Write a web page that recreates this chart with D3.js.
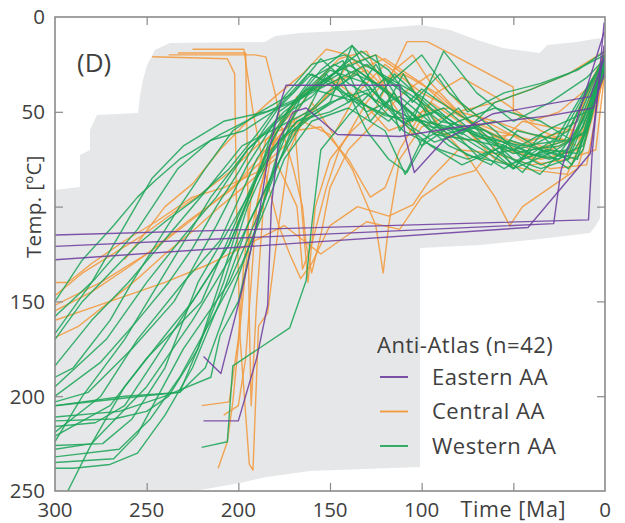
<!DOCTYPE html>
<html>
<head>
<meta charset="utf-8">
<script src="https://cdn.jsdelivr.net/npm/d3@7"></script>
<style>
  html, body { margin: 0; padding: 0; background: #fff; }
  svg { display: block; }
  text { font-family: "Open Sans", "DejaVu Sans", sans-serif; fill: #3f3f3f; }
</style>
</head>
<body>
<svg id="chart" width="625" height="523"></svg>
<script>
// Thermal histories of the Anti-Atlas samples: time [Ma] vs temperature [°C]

const xTicks = [300, 250, 200, 150, 100, 50, 0];
const xTickLabels = ["300", "250", "200", "150", "100", "Time [Ma]", "0"];
const yTicks = [0, 50, 100, 150, 200, 250];
const yTickLabels = ["0", "50", "", "150", "200", "250"];

const groups = ["Eastern AA", "Central AA", "Western AA"];
const groupColors = ["#6e3fa0", "#f39a3c", "#1ea65a"];
const legendTitle = "Anti-Atlas (n=42)";
const panelLabel = "(D)";
const yTitle = "Temp. [ºC]";

// envelope of all accepted paths, [time, temperature]
const envelope = [
  [300, 250], [300, 91.3], [286.4, 89.7], [286.4, 72.8], [280.9, 70.2], [280.9, 59.6],
  [277.1, 51.7], [254.7, 50.6], [253.6, 41.1], [252, 33.2], [249.8, 25.3], [245.5, 17.4],
  [237.3, 13.7], [185.5, 13.2], [180, 10], [166.4, 8.4], [133.6, 6.9], [100.9, 4.2],
  [84.5, 6.9], [69.8, 12.1], [55.6, 16.4], [35.5, 19], [31.6, 14.8], [15.3, 13.2],
  [5, 11.5], [2.6, 11.2], [2.6, 106], [5, 110], [8.2, 113.9], [35.5, 117.1],
  [68.2, 120.3], [100.9, 121.9], [100.9, 237.4], [160.9, 239.5], [185.5, 242.7],
  [199.1, 245.8], [220.9, 249.5], [226.4, 250]
];

// Eastern Anti-Atlas paths
const easternPaths = [
  [[300, 115], [9, 107], [7, 72], [0.5, 3]],
  [[300, 121], [28, 109], [24, 81], [0.5, 8]],
  [[300, 128], [42, 111], [8, 72], [0.5, 15]],
  [[219, 179], [209.5, 188], [198, 144], [188, 100], [183, 69], [176, 42], [174, 36],
   [112, 36], [109, 63], [104, 82], [88, 65], [61, 51], [8, 42], [0.5, 22]],
  [[219, 213], [200, 213], [190, 180], [184, 152], [182, 100], [178, 65], [170, 50],
   [163, 48], [146, 62], [112, 63], [80, 58], [30, 52], [6.5, 48], [0.5, 30]]
];

// Central Anti-Atlas paths
const centralPaths = [
  [[247, 21], [206, 22], [202, 30], [201, 100], [199, 170], [194, 236], [192, 239], [189, 163],
   [184, 156], [178, 110], [172, 70], [160, 45], [148, 62], [135, 40], [120, 25], [100, 40],
   [80, 50], [60, 45], [40, 38], [20, 30], [0, 18]],
  [[233, 19], [196, 19], [195, 80], [194, 160], [193, 205], [190, 150], [186, 95], [180, 60],
   [168, 42], [150, 35], [130, 28], [112, 45], [95, 60], [75, 65], [50, 62], [30, 70], [10, 62], [0, 20]],
  [[238, 20], [191, 20], [185, 21], [180, 40], [176, 60], [170, 80], [165, 100], [163, 120],
   [160, 135], [155, 115], [150, 90], [140, 70], [125, 55], [110, 40], [95, 30], [80, 45],
   [65, 55], [40, 68], [20, 72], [0, 22]],
  [[300, 140], [293, 140], [280, 130], [262, 118], [245, 108], [225, 95], [208, 90], [190, 82],
   [175, 68], [160, 50], [140, 30], [120, 22], [100, 35], [80, 52], [60, 60], [40, 65], [20, 60], [0, 20]],
  [[300, 147], [285, 135], [270, 126], [252, 115], [235, 103], [220, 93], [205, 82], [190, 68],
   [178, 60], [165, 55], [150, 62], [138, 80], [125, 110], [121, 135], [118, 110], [112, 75],
   [100, 58], [80, 50], [60, 55], [40, 62], [20, 65], [0, 20]],
  [[300, 169], [287, 163], [270, 150], [255, 138], [240, 125], [225, 113], [210, 100], [195, 88],
   [180, 75], [168, 100], [165, 133], [160, 120], [152, 90], [145, 70], [130, 45], [115, 28],
   [105, 20], [95, 35], [75, 55], [55, 70], [35, 75], [15, 70], [0, 25]],
  [[211, 238], [206, 224], [203, 203], [195, 123], [188, 90], [178, 58], [165, 40], [150, 32],
   [132, 45], [118, 60], [105, 55], [95, 45], [80, 55], [60, 75], [45, 80], [20.7, 83], [10, 60], [0, 22]],
  [[220, 205], [205, 203], [200, 170], [197, 130], [193, 95], [185, 65], [170, 50], [162, 140],
   [158, 100], [150, 75], [138, 60], [125, 48], [108, 13], [97, 13], [83, 20], [50, 37], [50, 50],
   [35, 60], [15, 68], [0, 20]],
  [[225, 17], [197, 17], [192, 50], [186, 80], [178, 110], [172, 125], [166, 138], [160, 130],
   [150, 110], [135, 100], [118, 105], [104.7, 99], [95, 85], [80, 70], [60, 72], [40, 78],
   [20, 75], [5, 70], [0, 28]],
  [[300, 155], [280, 145], [260, 132], [240, 118], [220, 103], [200, 87], [185, 70], [170, 55],
   [155, 45], [140, 25], [125, 20], [110, 30], [100, 45], [88, 60], [74, 75], [60, 95], [52, 110],
   [45, 100], [30, 90], [15, 80], [0, 30]],
  [[300, 160], [270, 150], [240, 140], [215, 130], [195, 120], [175, 110], [155, 125], [130, 108],
   [112, 112], [100, 95], [85, 85], [71, 81], [60, 68], [45, 55], [30, 58], [15, 60], [0, 20]],
  [[208, 210], [200, 205], [196, 180], [193, 140], [190, 100], [183, 70], [170, 60], [155, 58],
   [140, 75], [128, 95], [120, 90], [112, 70], [100, 50], [85, 48], [65, 60], [45, 72], [30, 80],
   [10, 78], [0, 25]],
  [[262, 128], [240, 100], [225, 88], [210, 70], [195, 55], [180, 42], [165, 30], [152, 17],
   [140, 20], [125, 35], [110, 30], [92, 40], [75, 55], [60, 62], [40, 70], [20, 65], [0, 18]],
  [[300, 152], [275, 140], [250, 125], [228, 108], [205, 92], [186, 75], [172, 55], [158, 35],
   [145, 22], [130, 18], [118, 42], [105, 62], [92, 40], [78, 32], [60, 42], [40, 55], [25, 50],
   [10, 38], [0, 20]]
];

// Western Anti-Atlas paths
const westernPaths = [
  [[300, 235], [268, 233], [255, 220], [230, 175], [205, 140], [185, 95], [172, 62], [150, 45],
   [138, 15], [118, 35], [100, 20], [85, 40], [60, 60], [45, 75], [30, 70], [15, 45], [0, 22]],
  [[300, 228], [280, 225], [250, 195], [225, 160], [200, 120], [180, 80], [165, 55], [152, 30],
   [140, 45], [125, 25], [105, 55], [88, 18], [70, 40], [50, 55], [30, 45], [10, 32], [0, 22]],
  [[300, 224], [285, 200], [262, 170], [240, 135], [215, 95], [195, 70], [175, 52], [155, 28],
   [138, 15], [120, 48], [110, 30], [95, 55], [75, 65], [50, 80], [35, 62], [18, 78], [8, 55], [0, 20]],
  [[300, 221], [270, 205], [250, 180], [220, 150], [200, 105], [183, 68], [170, 45], [148, 25],
   [125, 35], [104, 52], [85, 68], [62, 78], [48, 60], [25, 65], [8, 35], [0, 22]],
  [[300, 219], [275, 200], [255, 170], [230, 140], [210, 118], [190, 75], [172, 48], [160, 32],
   [143, 23], [128, 55], [115, 40], [100, 68], [85, 58], [68, 75], [52, 65], [35, 70], [20, 80],
   [12, 70], [0, 25]],
  [[300, 216], [278, 214], [262, 205], [245, 180], [225, 150], [205, 120], [188, 80], [178, 50],
   [160, 38], [138, 44], [110, 55], [93, 66], [70, 58], [50, 75], [35, 80], [20, 75], [0, 30]],
  [[300, 211], [265, 208], [240, 200], [215, 190], [210, 168], [200, 150], [190, 110], [178, 72],
   [165, 40], [145, 28], [125, 20], [112, 60], [100, 45], [88, 62], [60, 55], [35, 70], [15, 75], [0, 22]],
  [[300, 205], [262, 200], [232, 198], [218, 185], [205, 150], [190, 110], [175, 60], [160, 38],
   [140, 25], [120, 38], [100, 55], [75, 60], [50, 80], [30, 72], [10, 60], [0, 20]],
  [[300, 203], [282, 198], [258, 175], [235, 150], [212, 110], [195, 78], [180, 55], [160, 42],
   [140, 22], [125, 45], [115, 30], [95, 48], [78, 62], [60, 45], [40, 38], [20, 30], [0, 20]],
  [[300, 195], [272, 170], [250, 140], [232, 118], [212, 95], [195, 70], [175, 50], [155, 35],
   [133, 18], [118, 28], [105, 45], [90, 30], [75, 50], [55, 40], [35, 35], [15, 28], [0, 18]],
  [[300, 184], [280, 160], [260, 140], [238, 115], [218, 92], [198, 68], [178, 58], [158, 48],
   [135, 28], [113, 45], [93, 62], [72, 65], [50, 70], [28, 58], [10, 50], [0, 20]],
  [[300, 167], [280, 140], [262, 110], [247, 85], [230, 68], [208, 55], [185, 50], [165, 42],
   [145, 30], [130, 60], [118, 75], [108, 82], [95, 60], [80, 48], [62, 68], [45, 82], [35, 70],
   [20, 75], [10, 60], [0, 22]],
  [[300, 158], [278, 138], [255, 112], [233, 80], [215, 65], [197, 60], [178, 48], [160, 30],
   [143, 40], [120, 52], [98, 55], [75, 73], [52, 78], [32, 70], [15, 72], [0, 25]],
  [[293, 250], [280, 225], [262, 195], [240, 168], [225, 150], [205, 120], [192, 90], [180, 62],
   [168, 45], [150, 28], [130, 35], [110, 56], [92, 50], [70, 63], [45, 68], [22, 65], [5, 30], [0, 22]],
  [[300, 238], [290, 238], [270, 236], [255, 230], [240, 210], [225, 185], [210, 150], [195, 110],
   [182, 85], [170, 60], [152, 40], [135, 30], [115, 52], [95, 68], [78, 78], [55, 68], [35, 78],
   [20, 73], [0, 25]],
  [[220, 227], [206, 224], [203, 184], [172, 164], [163, 139], [160, 110], [155, 70], [140, 52],
   [120, 32], [100, 45], [80, 60], [60, 72], [40, 68], [15, 55], [0, 20]],
  [[300, 150], [285, 128], [268, 110], [255, 95], [245, 86], [232, 75], [210, 62], [190, 52],
   [170, 45], [150, 35], [130, 25], [110, 40], [90, 55], [65, 60], [40, 72], [20, 60], [0, 20]],
  [[300, 232], [265, 228], [248, 212], [232, 190], [215, 160], [198, 130], [185, 100], [175, 75],
   [160, 55], [140, 48], [120, 60], [109, 83], [100, 65], [80, 55], [60, 48], [35, 55], [18, 65], [0, 22]],
  [[300, 213], [268, 212], [250, 208], [238, 200], [222, 175], [210, 140], [200, 110], [190, 85],
   [178, 65], [160, 52], [140, 40], [118, 55], [100, 38], [82, 50], [62, 62], [50, 80], [40, 70],
   [25, 68], [10, 60], [0, 25]],
  [[300, 226], [274, 225], [258, 212], [240, 185], [222, 140], [210, 120], [195, 95], [182, 70],
   [168, 55], [150, 50], [130, 40], [110, 60], [90, 70], [75, 75], [60, 70], [35.5, 83], [25, 72],
   [12, 55], [0, 22]],
  [[300, 205], [253, 200], [232, 198], [220, 170], [208, 140], [195, 100], [182, 72], [168, 55],
   [150, 45], [128, 38], [108, 55], [88, 48], [70, 62], [50, 70], [30, 75], [12, 68], [0, 25]],
  [[300, 170], [285, 150], [270, 135], [255, 120], [240, 108], [222, 95], [205, 80], [190, 62],
   [175, 42], [160, 25], [142, 20], [122, 30], [100, 42], [80, 58], [58, 65], [38, 73], [20, 70], [0, 28]],
  [[300, 190], [290, 185], [270, 160], [258, 140], [245, 120], [232, 100], [218, 80], [203, 60],
   [188, 50], [170, 40], [155, 22], [140, 35], [118, 48], [95, 58], [75, 60], [50, 72], [30, 68],
   [12, 62], [0, 22]],
  [[300, 200], [275, 182], [255, 160], [238, 140], [225, 122], [212, 100], [200, 82], [188, 62],
   [176, 45], [162, 30], [148, 35], [130, 50], [112, 42], [96, 55], [80, 65], [55, 80], [42, 72],
   [25, 75], [12, 58], [0, 24]]
];

const svg = d3.select("#chart");
const margin = { left: 55, top: 17, right: 20, bottom: 32 };
const W = 625, H = 523;
const pw = W - margin.left - margin.right;   // 550
const ph = H - margin.top - margin.bottom;   // 474

const x = d3.scaleLinear().domain([300, 0]).range([margin.left, margin.left + pw]);
const y = d3.scaleLinear().domain([0, 250]).range([margin.top, margin.top + ph]);

svg.append("defs").append("clipPath").attr("id", "plot-clip")
  .append("rect").attr("x", margin.left).attr("y", margin.top).attr("width", pw).attr("height", ph);

const plot = svg.append("g").attr("clip-path", "url(#plot-clip)");

const line = d3.line().x(d => x(d[0])).y(d => y(d[1]));

// envelope
plot.append("path")
  .datum(envelope)
  .attr("d", d => line(d) + "Z")
  .attr("fill", "#e6e7e8")
  .attr("stroke", "none");

// paths per group: central below, western above, eastern on top
const drawGroup = (paths, color, cls) => {
  plot.append("g").attr("class", cls)
    .selectAll("path").data(paths).join("path")
    .attr("d", line)
    .attr("fill", "none")
    .attr("stroke", color)
    .attr("stroke-width", 1.4)
    .attr("stroke-linejoin", "round")
    .attr("stroke-opacity", 0.88);
};
drawGroup(centralPaths, groupColors[1], "central");
drawGroup(westernPaths, groupColors[2], "western");
drawGroup(easternPaths, groupColors[0], "eastern");

// frame and inward ticks on all four sides
const axisColor = "#8a8a8a";
const tickLen = 8;
const innerX = xTicks.filter(v => v !== 300 && v !== 0);
const innerY = yTicks.filter(v => v !== 0 && v !== 250);

const axes = svg.append("g");
axes.append("g")
  .attr("transform", `translate(0,${margin.top + ph})`)
  .call(d3.axisBottom(x).tickValues(innerX).tickSize(-tickLen).tickFormat(""))
  .call(g => g.select(".domain").remove());
axes.append("g")
  .attr("transform", `translate(0,${margin.top})`)
  .call(d3.axisTop(x).tickValues(innerX).tickSize(-tickLen).tickFormat(""))
  .call(g => g.select(".domain").remove());
axes.append("g")
  .attr("transform", `translate(${margin.left},0)`)
  .call(d3.axisLeft(y).tickValues(innerY).tickSize(-tickLen).tickFormat(""))
  .call(g => g.select(".domain").remove());
axes.append("g")
  .attr("transform", `translate(${margin.left + pw},0)`)
  .call(d3.axisRight(y).tickValues(innerY).tickSize(-tickLen).tickFormat(""))
  .call(g => g.select(".domain").remove());
axes.selectAll(".tick line").attr("stroke", axisColor).attr("stroke-width", 1.2);

svg.append("rect")
  .attr("x", margin.left).attr("y", margin.top)
  .attr("width", pw).attr("height", ph)
  .attr("fill", "none").attr("stroke", axisColor).attr("stroke-width", 1.6);

// tick labels (the 50 Ma slot carries the axis name)
svg.append("g").selectAll("text").data(xTicks).join("text")
  .attr("x", d => x(d))
  .attr("y", margin.top + ph + 26)
  .attr("text-anchor", "middle")
  .attr("font-size", (d, i) => /\d/.test(xTickLabels[i]) ? 20.5 : 21.5)
  .attr("letter-spacing", (d, i) => /\d/.test(xTickLabels[i]) ? 0 : 0.6)
  .text((d, i) => xTickLabels[i]);

svg.append("g").selectAll("text").data(yTicks).join("text")
  .attr("x", margin.left - 10)
  .attr("y", d => y(d))
  .attr("dy", "0.36em")
  .attr("text-anchor", "end")
  .attr("font-size", 20.5)
  .text((d, i) => yTickLabels[i]);

// axis title in the 100 °C slot
svg.append("text")
  .attr("transform", `translate(${41},${y(100)}) rotate(-90)`)
  .attr("text-anchor", "middle")
  .attr("font-size", 20.5)
  .attr("letter-spacing", 0.4)
  .text(yTitle);

// panel label
svg.append("text")
  .attr("x", 77).attr("y", 72)
  .attr("font-size", 26)
  .text(panelLabel);

// legend
const legend = svg.append("g");
legend.append("text")
  .attr("x", 377).attr("y", 353)
  .attr("font-size", 22)
  .attr("letter-spacing", 0.5)
  .text(legendTitle);
const items = legend.selectAll("g.item").data(groups).join("g").attr("class", "item")
  .attr("transform", (d, i) => `translate(0,${377 + i * 34.5})`);
items.append("line")
  .attr("x1", 380).attr("x2", 408)
  .attr("stroke", (d, i) => groupColors[i])
  .attr("stroke-width", 1.8);
items.append("text")
  .attr("x", 432).attr("y", 0)
  .attr("dy", "0.36em")
  .attr("font-size", 22)
  .attr("letter-spacing", 0.5)
  .text(d => d);
</script>
</body>
</html>
